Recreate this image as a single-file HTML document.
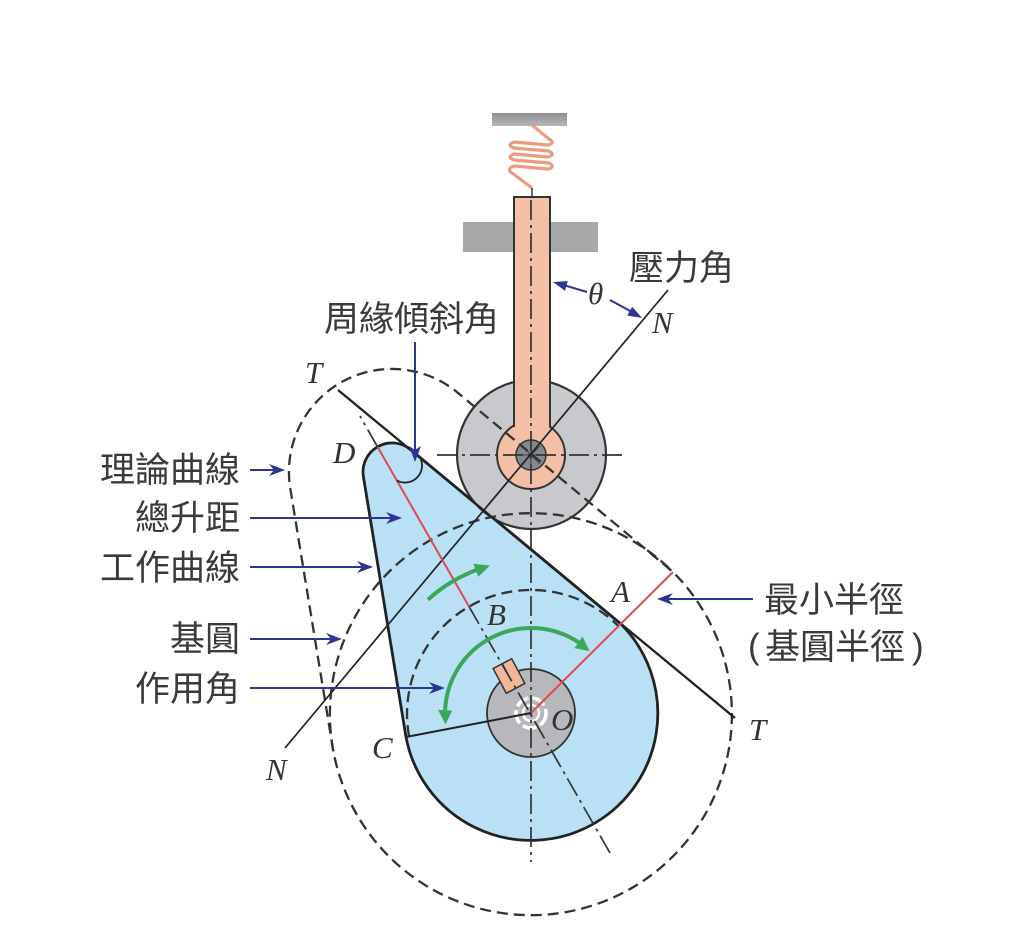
<!DOCTYPE html>
<html>
<head>
<meta charset="utf-8">
<style>
html,body{margin:0;padding:0;background:#fff;}
svg{display:block;}
.cjk{font-family:"Liberation Sans","Noto Sans CJK TC",sans-serif;font-size:35px;fill:#3a3a3a;}
.it{font-family:"Liberation Serif",serif;font-style:italic;font-size:31px;fill:#333;}
</style>
</head>
<body>
<svg width="1024" height="933" viewBox="0 0 1024 933" xmlns="http://www.w3.org/2000/svg">
<defs>
<linearGradient id="bar" x1="0" y1="0" x2="0" y2="1">
<stop offset="0" stop-color="#8e9092"/>
<stop offset="1" stop-color="#b4b6b8"/>
</linearGradient>
</defs>
<rect x="0" y="0" width="1024" height="933" fill="#fff"/>

<!-- top fixed bar -->
<rect x="492" y="113" width="75" height="13" fill="url(#bar)"/>
<!-- spring -->
<path d="M532,125 L549,139 Q556,143 548,145 L514,142 Q506,145 514,148 L549,151 Q556,155 548,157 L514,154 Q506,157 514,160 L549,163 Q556,167 548,169 L514,166 Q506,169 512,173 L532,188" fill="none" stroke="#eb9c80" stroke-width="3.2" stroke-linejoin="round"/>
<line x1="532" y1="188" x2="532" y2="198" stroke="#333" stroke-width="1.5"/>

<!-- guide block -->
<rect x="463" y="222" width="135" height="30" fill="#a6a8aa"/>

<!-- cam -->
<path d="M406,737 L363.4,476.7 A29 29 0 0 1 410.5,449.6 L621,624 A127 127 0 1 1 406,737 Z" fill="#b9e0f5" stroke="#222" stroke-width="2.8"/>

<!-- roller -->
<circle cx="531.5" cy="454.5" r="74.5" fill="#c7c9cc" stroke="#333" stroke-width="2.2"/>
<!-- follower eye and stem -->
<circle cx="531" cy="455" r="34" fill="#f3c0a7" stroke="#333" stroke-width="2"/>
<path d="M514,427 V197 H550 V427" fill="#f3c0a7" stroke="#333" stroke-width="2"/>
<circle cx="531" cy="455" r="15" fill="#85898d" stroke="#333" stroke-width="1.5"/>
<g stroke="#444" stroke-width="1">
<line x1="519" y1="455" x2="543" y2="455"/>
<line x1="531" y1="443" x2="531" y2="467"/>
<line x1="522" y1="446" x2="540" y2="464"/>
<line x1="540" y1="446" x2="522" y2="464"/>
</g>

<!-- hub -->
<circle cx="531" cy="713" r="44" fill="#b6b8bb" stroke="#333" stroke-width="1.8"/>
<circle cx="531" cy="713" r="15" fill="none" stroke="#fff" stroke-width="3.5" stroke-dasharray="14 4"/>
<circle cx="531" cy="713" r="8" fill="none" stroke="#fff" stroke-width="2.5"/>
<!-- key -->
<g transform="translate(509,676) rotate(-28)">
<rect x="-10.5" y="-14" width="21" height="28" fill="#f0b899" stroke="#333" stroke-width="1.5"/>
<line x1="0" y1="-14" x2="0" y2="2" stroke="#333" stroke-width="1.2"/>
</g>

<!-- dashed: pitch curve -->
<path d="M333.2,750.4 L290.3,488.7 A103 103 0 0 1 457.6,392.6 L673,572 A201 201 0 1 1 333.2,750.4" fill="none" stroke="#333" stroke-width="2.3" stroke-dasharray="11 6"/>
<!-- dashed: prime circle top part -->
<path d="M333.2,750.4 A201 201 0 0 1 673,572" fill="none" stroke="#333" stroke-width="2.3" stroke-dasharray="11 6"/>
<!-- dashed: cam base circle -->
<path d="M409,736 A124 124 0 0 1 618.7,626.3" fill="none" stroke="#333" stroke-width="2.3" stroke-dasharray="11 6"/>

<!-- centerlines -->
<g fill="none" stroke="#333" stroke-width="1.7" stroke-dasharray="20 5 3 5">
<line x1="531" y1="200" x2="531" y2="862"/>
<line x1="437" y1="455" x2="625" y2="455"/>
<line x1="469" y1="606.5" x2="610" y2="853"/>
<line x1="377.6" y1="446.9" x2="360" y2="416"/>
</g>

<!-- T-T line and N-N line -->
<line x1="338" y1="390" x2="735" y2="718" stroke="#222" stroke-width="2.3"/>
<line x1="668" y1="290" x2="285" y2="748" stroke="#222" stroke-width="1.7"/>

<!-- red lines -->
<line x1="377.6" y1="446.9" x2="469" y2="606.5" stroke="#de4a4f" stroke-width="2"/>
<line x1="531" y1="713" x2="673" y2="572" stroke="#de4a4f" stroke-width="2"/>
<!-- O to C -->
<line x1="531" y1="713" x2="406" y2="737" stroke="#222" stroke-width="2"/>

<!-- peripheral angle arc -->
<path d="M396.9,480.5 A17 17 0 0 0 420,457.5" fill="none" stroke="#222" stroke-width="1.8"/>

<!-- green arrows -->
<g fill="none" stroke="#3aa75a" stroke-width="4">
<path d="M428,599.6 A154 154 0 0 1 478.3,569.3"/>
<path d="M578.5,642.3 A86 86 0 0 0 445.1,710.2"/>
</g>
<g fill="#3aa75a">
<polygon points="489.9,565.6 473.3,563.7 478.3,576.7"/>
<polygon points="589.6,651.1 582.4,636.5 574.6,648.1"/>
<polygon points="445.6,724.5 438.1,709.9 452.1,710.5"/>
</g>

<!-- blue arrows -->
<g stroke="#2d3491" stroke-width="2" fill="none">
<line x1="250" y1="470" x2="274" y2="470"/>
<line x1="250" y1="518" x2="391" y2="518"/>
<line x1="250" y1="567" x2="362" y2="567"/>
<line x1="250" y1="639" x2="331" y2="639"/>
<line x1="250" y1="688" x2="434" y2="688"/>
<line x1="668" y1="599" x2="753" y2="599"/>
<line x1="415" y1="342" x2="415" y2="451"/>
<line x1="587" y1="292" x2="562" y2="284.6"/>
<line x1="610" y1="300" x2="632" y2="312"/>
</g>
<g fill="#2d3491">
<polygon points="285,470 269,464 274,470 269,476"/>
<polygon points="402,518 386,512 391,518 386,524"/>
<polygon points="373,567 357,561 362,567 357,573"/>
<polygon points="342,639 326,633 331,639 326,645"/>
<polygon points="445,688 429,682 434,688 429,694"/>
<polygon points="657,599 673,593 668,599 673,605"/>
<polygon points="415,462 409,446 415,450 421,446"/>
<polygon points="553,282 567.8,281.1 565,290.7"/>
<polygon points="642,318 627.3,315.5 632.2,306.7"/>
</g>

<!-- CJK labels -->
<text class="cjk" x="240" y="482" text-anchor="end">理論曲線</text>
<text class="cjk" x="240" y="530" text-anchor="end">總升距</text>
<text class="cjk" x="240" y="580" text-anchor="end">工作曲線</text>
<text class="cjk" x="240" y="651" text-anchor="end">基圓</text>
<text class="cjk" x="240" y="701" text-anchor="end">作用角</text>
<text class="cjk" x="324" y="331">周緣傾斜角</text>
<text class="cjk" x="629" y="280">壓力角</text>
<text class="cjk" x="764" y="612">最小半徑</text>
<text class="cjk" x="748" y="658">(</text>
<text class="cjk" x="765" y="659">基圓半徑</text>
<text class="cjk" x="912" y="658">)</text>

<!-- italic letters -->
<text class="it" x="305" y="383">T</text>
<text class="it" x="333" y="463">D</text>
<text class="it" x="652" y="333">N</text>
<text class="it" x="611" y="602">A</text>
<text class="it" x="487" y="625">B</text>
<text class="it" x="551" y="730">O</text>
<text class="it" x="372" y="758">C</text>
<text class="it" x="266" y="780">N</text>
<text class="it" x="749" y="740">T</text>
<text class="it" x="588" y="304">θ</text>
</svg>
</body>
</html>
